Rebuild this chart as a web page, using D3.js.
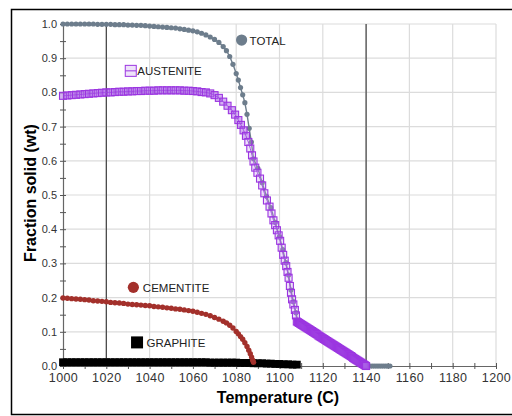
<!DOCTYPE html>
<html>
<head>
<meta charset="utf-8">
<script src="https://cdn.jsdelivr.net/npm/d3@7/dist/d3.min.js"></script>
<style>
  html, body { margin: 0; padding: 0; background: #fff; }
  svg { display: block; font-family: "Liberation Sans", Arial, sans-serif; }
</style>
</head>
<body>
<svg id="chart" width="512" height="416"></svg>
<script>
// Phase fractions vs temperature
const xTickLabels = [1000, 1020, 1040, 1060, 1080, 1100, 1120, 1140, 1160, 1180, 1200];
const yTickLabels = [0.0, 0.1, 0.2, 0.3, 0.4, 0.5, 0.6, 0.7, 0.8, 0.9, 1.0];
const xMinorTicks = [1010, 1030, 1050, 1070, 1090, 1110, 1130, 1150, 1170, 1190];
const yMinorTicks = [0.05, 0.15, 0.25, 0.35, 0.45, 0.55, 0.65, 0.75, 0.85, 0.95];
const markerLines = [1020, 1140];

const seriesNames = ["TOTAL", "AUSTENITE", "CEMENTITE", "GRAPHITE"];

const totalT = [1000,1002,1004,1006,1008,1010,1012,1014,1016,1018,1020,1022,1024,1026,1028,1030,1032,1034,1036,1038,1040,1042,1044,1046,1048,1050,1052,1054,1056,1058,1060,
  1062,1064,1066,1068,1070,1072,1074,1075.5,1077,1078.5,1080,1081,1082,1083,1084,1085,1086,1087,
  1088,1090,1092,1094,1096,1098,1100,1101.5,1103,1104.2,1105.3,1106.4,1107.6,1108.5,
  1110,1112,1114,1116,1118,1120,1122,1124,1126,1128,1130,1132,1134,1136,1138,1140,
  1141,1142,1143,1144,1145,1146,1147,1148,1149,1150,1151];
const totalF = [1.000,1.000,1.000,1.000,1.000,1.000,1.000,1.000,0.999,0.999,0.999,0.999,0.998,0.998,0.998,0.997,0.997,0.996,0.996,0.995,0.994,0.993,0.992,0.991,0.990,0.989,0.988,0.986,0.984,0.982,0.980,
  0.977,0.973,0.968,0.962,0.955,0.946,0.934,0.922,0.905,0.882,0.855,0.836,0.814,0.793,0.770,0.736,0.695,0.655,
  0.606,0.578,0.536,0.496,0.463,0.420,0.378,0.340,0.302,0.266,0.222,0.188,0.156,0.130,
  0.122,0.114,0.106,0.098,0.089,0.081,0.073,0.065,0.057,0.049,0.041,0.033,0.024,0.016,0.008,0.000,
  0,0,0,0,0,0,0,0,0,0,0];

const austT = [1000,1002,1004,1006,1008,1010,1012,1014,1016,1018,1020,1022,1024,1026,1028,1030,1032,1034,1036,1038,1040,1042,1044,1046,1048,1050,1052,1054,1056,1058,1060,1062,1064,1066,1068,
  1070,1072,1074,1076,1078,1079.5,1081,1082.2,1083.4,1084.5,1085.6,1086.5,1087.3,1088,1088.8,1089.8,1091,1092,1093,1094.2,1095.4,1096.3,1097.2,1098,1098.8,1099.6,1100.3,1101,1101.7,1102.4,1103.1,1103.7,1104.2,1104.8,1105.3,1105.8,1106.4,1107.1,1107.6,1108,
  1108.5,1109,1109.5,1110,1110.5,1111,1111.5,1112,1112.5,1113,1113.5,1114,1114.5,1115,1115.5,1116,1116.5,1117,1117.5,1118,1118.5,1119,1119.5,1120,1120.5,1121,1121.5,1122,1122.5,1123,1123.5,1124,
  1124.5,1125,1125.5,1126,1126.5,1127,1127.5,1128,1128.5,1129,1129.5,1130,1130.5,1131,1131.5,1132,1132.5,1133,1133.5,1134,1134.5,1135,1135.5,1136,1136.5,1137,1137.5,1138,1138.5,1139,1139.5,1140];
const austF = [0.790,0.791,0.792,0.793,0.794,0.795,0.796,0.797,0.798,0.799,0.800,0.800,0.801,0.802,0.802,0.803,0.803,0.804,0.804,0.805,0.805,0.805,0.806,0.806,0.806,0.806,0.806,0.806,0.805,0.805,0.804,0.803,0.801,0.800,0.797,
  0.792,0.784,0.773,0.761,0.748,0.735,0.719,0.705,0.689,0.673,0.655,0.636,0.616,0.598,0.580,0.565,0.548,0.528,0.505,0.484,0.466,0.446,0.426,0.412,0.397,0.382,0.366,0.346,0.325,0.308,0.292,0.275,0.258,0.234,0.214,0.195,0.180,0.164,0.148,0.130,
  0.128,0.126,0.124,0.122,0.120,0.118,0.116,0.114,0.112,0.110,0.108,0.106,0.104,0.102,0.100,0.098,0.096,0.094,0.092,0.089,0.087,0.085,0.083,0.081,0.079,0.077,0.075,0.073,0.071,0.069,0.067,0.065,
  0.063,0.061,0.059,0.057,0.055,0.053,0.051,0.049,0.047,0.045,0.043,0.041,0.039,0.037,0.035,0.033,0.031,0.029,0.027,0.024,0.022,0.020,0.018,0.016,0.014,0.012,0.010,0.008,0.006,0.004,0.002,0.000];

const cemT = [1000,1002,1004,1006,1008,1010,1012,1014,1016,1018,1020,1022,1024,1026,1028,1030,1032,1034,1036,1038,1040,1042,1044,1046,1048,1050,1052,1054,1056,1058,1060,
  1062,1064,1066,1068,1070,1072,1074,1075.5,1077,1078.5,1080,1081,1082,1083,1084,1085,1085.8,1086.5,1087.1,1087.6,1088];
const cemF = [0.199,0.198,0.197,0.196,0.195,0.194,0.193,0.191,0.190,0.189,0.188,0.186,0.185,0.184,0.183,0.181,0.180,0.179,0.178,0.177,0.176,0.174,0.173,0.172,0.170,0.169,0.167,0.166,0.164,0.162,0.160,
  0.157,0.154,0.151,0.147,0.142,0.137,0.131,0.126,0.119,0.111,0.101,0.094,0.086,0.078,0.068,0.057,0.046,0.036,0.026,0.017,0.011];

const grT = [1000,1002,1004,1006,1008,1010,1012,1014,1016,1018,1020,1022,1024,1026,1028,1030,1032,1034,1036,1038,1040,1042,1044,1046,1048,1050,1052,1054,1056,1058,1060,
  1062,1064,1066,1068,1070,1072,1074,1076,1078,1080,1082,1084,1086,1088,1090,1092,1094,1096,1098,1100,1102,1104,1106,1108];
const grF = [0.011,0.011,0.011,0.011,0.011,0.011,0.011,0.011,0.011,0.011,0.011,0.011,0.011,0.011,0.011,0.011,0.011,0.011,0.011,0.011,0.011,0.011,0.011,0.011,0.011,0.011,0.011,0.011,0.011,0.011,0.011,
  0.011,0.011,0.011,0.010,0.010,0.010,0.010,0.010,0.010,0.010,0.009,0.009,0.009,0.008,0.008,0.008,0.007,0.007,0.006,0.006,0.005,0.005,0.004,0.004];

const svg = d3.select("#chart");

const x = d3.scaleLinear().domain([1000, 1200]).range([63, 496]);
const y = d3.scaleLinear().domain([0, 1]).range([366, 24]);

// outer frame
svg.append("rect")
  .attr("x", 11.5).attr("y", 9.5).attr("width", 510).attr("height", 405)
  .attr("fill", "none").attr("stroke", "#000").attr("stroke-width", 1.5);

// grid
const grid = svg.append("g");
grid.selectAll("line.h").data(yTickLabels.slice(1)).join("line")
  .attr("x1", x(1000)).attr("x2", x(1200))
  .attr("y1", d => y(d)).attr("y2", d => y(d))
  .attr("stroke", "#dcdcdc").attr("stroke-width", 1.2);
grid.selectAll("line.v").data(xTickLabels.slice(1)).join("line")
  .attr("x1", d => x(d)).attr("x2", d => x(d))
  .attr("y1", y(1)).attr("y2", y(0))
  .attr("stroke", "#dcdcdc").attr("stroke-width", 1.2);

// reference temperatures
svg.append("g").selectAll("line").data(markerLines).join("line")
  .attr("x1", d => x(d)).attr("x2", d => x(d))
  .attr("y1", y(1)).attr("y2", y(0))
  .attr("stroke", "#333").attr("stroke-width", 1.1);

// axes
function crossTicks(g, horiz) {
  g.selectAll(".tick line")
    .attr(horiz ? "y1" : "x1", -3).attr(horiz ? "y2" : "x2", 3)
    .attr("stroke", "#555");
  g.select(".domain").attr("stroke", "#666").attr("stroke-width", 1.2);
}

const xAxis = svg.append("g").attr("transform", `translate(0,${y(0)})`)
  .call(d3.axisBottom(x).tickValues(xTickLabels).tickFormat(d3.format("d")).tickSizeOuter(0));
crossTicks(xAxis, true);
xAxis.selectAll(".tick text").attr("y", 16).attr("dy", null)
  .attr("fill", "#333").attr("font-size", "12.5px").style("letter-spacing", "0.4px")
  .attr("font-family", "Liberation Sans, Arial, sans-serif");
const xMinor = svg.append("g").attr("transform", `translate(0,${y(0)})`)
  .call(d3.axisBottom(x).tickValues(xMinorTicks).tickFormat("").tickSizeOuter(0));
crossTicks(xMinor, true);
xMinor.select(".domain").remove();

const yAxis = svg.append("g").attr("transform", `translate(${x(1000)},0)`)
  .call(d3.axisLeft(y).tickValues(yTickLabels).tickFormat(d3.format(".1f")).tickSizeOuter(0));
crossTicks(yAxis, false);
yAxis.selectAll(".tick text").attr("x", -6)
  .attr("fill", "#333").attr("font-size", "11px")
  .attr("font-family", "Liberation Sans, Arial, sans-serif");
const yMinor = svg.append("g").attr("transform", `translate(${x(1000)},0)`)
  .call(d3.axisLeft(y).tickValues(yMinorTicks).tickFormat("").tickSizeOuter(0));
crossTicks(yMinor, false);
yMinor.select(".domain").remove();

// axis titles
svg.append("text").attr("x", 278).attr("y", 403)
  .attr("text-anchor", "middle").attr("font-weight", "bold").attr("font-size", "16px")
  .attr("fill", "#000").text("Temperature (C)");
svg.append("text").attr("transform", "translate(36,193) rotate(-90)")
  .attr("text-anchor", "middle").attr("font-weight", "bold").attr("font-size", "16px")
  .attr("fill", "#000").text("Fraction solid (wt)");

const line = d3.line().x(d => x(d[0])).y(d => y(d[1]));
const zip = (a, b) => a.map((t, i) => [t, b[i]]);

const totalColor = "#6d7d8c", austColor = "#9b35e0", cemColor = "#a3302b", grColor = "#000";
const austFill = "rgba(170,100,230,0.5)";

// graphite
const grData = zip(grT, grF);
svg.append("path").datum(grData).attr("d", line).attr("fill", "none").attr("stroke", grColor).attr("stroke-width", 1);
svg.append("g").selectAll("rect").data(grData).join("rect")
  .attr("x", d => x(d[0]) - 3.9).attr("y", d => y(d[1]) - 3.9)
  .attr("width", 7.8).attr("height", 7.8).attr("fill", grColor);

// total
const totData = zip(totalT, totalF);
svg.append("path").datum(totData).attr("d", line).attr("fill", "none").attr("stroke", totalColor).attr("stroke-width", 1.4);
svg.append("g").selectAll("circle").data(totData).join("circle")
  .attr("cx", d => x(d[0])).attr("cy", d => y(d[1])).attr("r", 2.6)
  .attr("fill", totalColor);

// austenite
const austData = zip(austT, austF);
svg.append("path").datum(austData).attr("d", line).attr("fill", "none").attr("stroke", austColor).attr("stroke-width", 1);
svg.append("g").selectAll("rect").data(austData).join("rect")
  .attr("x", d => x(d[0]) - 3.5).attr("y", d => y(d[1]) - 3.5)
  .attr("width", 7).attr("height", 7)
  .attr("fill", d => d[0] > 1085 && d[0] < 1108 ? "rgba(200,160,240,0.3)" : austFill)
  .attr("stroke", austColor).attr("stroke-width", 1.1);

// cementite
const cemData = zip(cemT, cemF);
svg.append("path").datum(cemData).attr("d", line).attr("fill", "none").attr("stroke", cemColor).attr("stroke-width", 1.4);
svg.append("g").selectAll("circle").data(cemData).join("circle")
  .attr("cx", d => x(d[0])).attr("cy", d => y(d[1])).attr("r", 2.7)
  .attr("fill", cemColor);

// in-plot series labels
const lab = svg.append("g").attr("font-size", "11.5px").attr("fill", "#222");
lab.append("circle").attr("cx", x(1082.5)).attr("cy", y(0.953)).attr("r", 5.6).attr("fill", totalColor);
lab.append("text").attr("x", x(1082.5) + 8).attr("y", y(0.953) + 5).text(seriesNames[0]);

lab.append("rect").attr("x", x(1031.3) - 5.5).attr("y", y(0.863) - 5.5).attr("width", 11).attr("height", 11)
  .attr("fill", "rgba(200,160,240,0.3)").attr("stroke", austColor).attr("stroke-width", 1);
lab.append("line").attr("x1", x(1031.3) - 5.5).attr("x2", x(1031.3) + 5.5)
  .attr("y1", y(0.863)).attr("y2", y(0.863)).attr("stroke", austColor).attr("stroke-width", 1);
lab.append("text").attr("x", x(1031.3) + 6.5).attr("y", y(0.863) + 4.5).text(seriesNames[1]);

lab.append("circle").attr("cx", x(1032.5)).attr("cy", y(0.230)).attr("r", 5.6).attr("fill", cemColor);
lab.append("text").attr("x", x(1032.5) + 9.5).attr("y", y(0.230) + 4.5).text(seriesNames[2]);

lab.append("rect").attr("x", x(1034.2) - 6).attr("y", y(0.069) - 6).attr("width", 12).attr("height", 12).attr("fill", grColor);
lab.append("text").attr("x", x(1034.2) + 9.5).attr("y", y(0.069) + 4.5).text(seriesNames[3]);
</script>
</body>
</html>
